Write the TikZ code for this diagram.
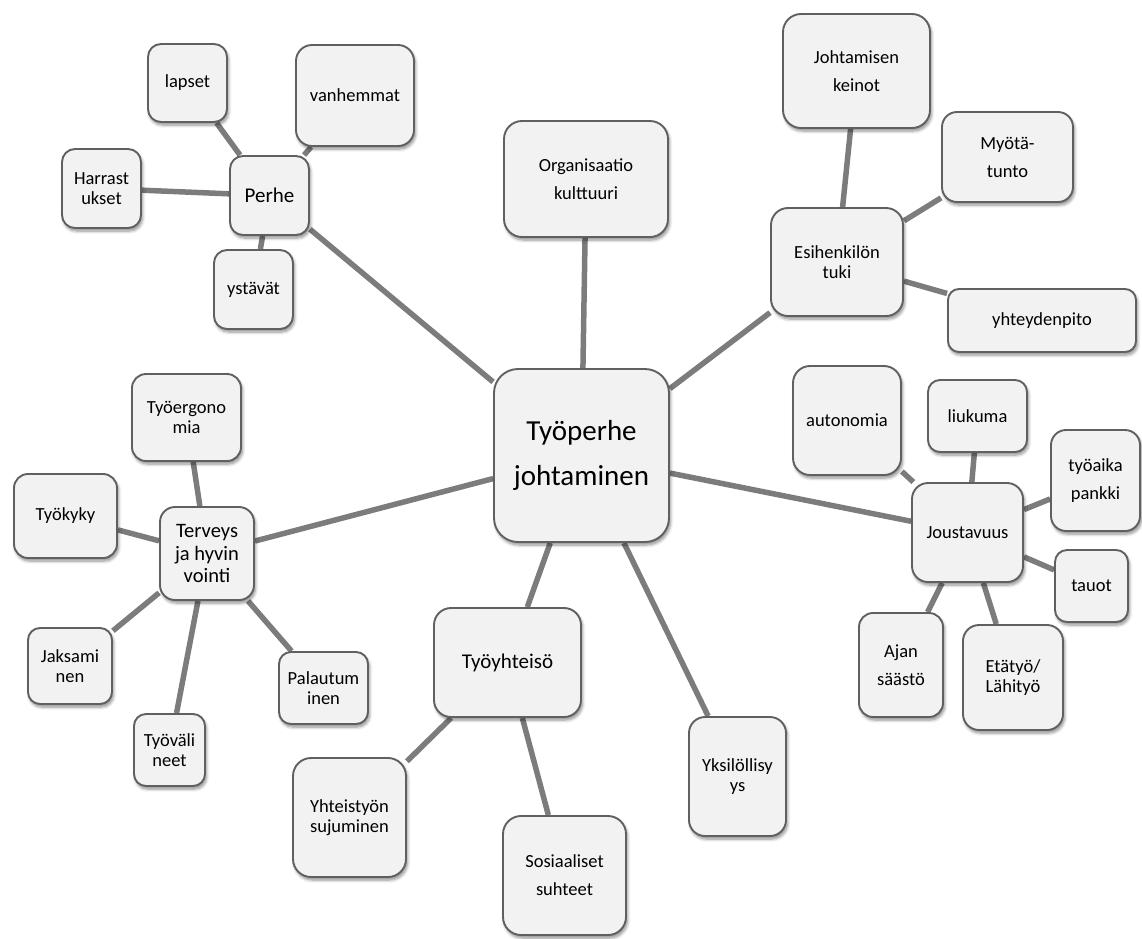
\documentclass[tikz,border=0pt]{standalone}
\usepackage{fontspec}
\setmainfont{Carlito}
\usetikzlibrary{shadows.blur,backgrounds}
\definecolor{boxfill}{HTML}{F2F2F2}
\definecolor{boxline}{HTML}{606060}
\definecolor{linkcol}{HTML}{7C7C7C}
\begin{document}
\begin{tikzpicture}[x=1pt,y=-1pt,
  bx/.style={draw=boxline, line width=1.9pt, fill=boxfill, rounded corners=#1, inner sep=0pt, align=center,
    blur shadow={shadow xshift=1.5pt, shadow yshift=-3pt, shadow blur steps=6, shadow opacity=45, shadow blur radius=3pt},
    font=\fontsize{18.5}{20}\selectfont},
  bx/.default=13pt,
  loose/.style={font=\fontsize{18.5}{28}\selectfont},
  link/.style={draw=linkcol, line width=5.5pt}]
\useasboundingbox (0,0) rectangle (1142,938);

% centre
\node[bx=24pt, minimum width=175pt, minimum height=173pt, font=\fontsize{29}{45}\selectfont] (cen) at (581.5,455.5) {Työperhe\\johtaminen};

% Perhe group
\node[bx, minimum width=79pt, minimum height=79pt, font=\fontsize{21}{23}\selectfont] (perhe) at (269.5,195.5) {Perhe};
\node[bx, minimum width=79pt, minimum height=78pt] (lapset) at (187.5,83) {lapset};
\node[bx=16pt, minimum width=118pt, minimum height=101pt] (vanh) at (355,95.5) {vanhemmat};
\node[bx, minimum width=79pt, minimum height=79pt] (harr) at (101.5,188.5) {Harrast\\ukset};
\node[bx, minimum width=79pt, minimum height=79pt] (ystav) at (253.5,289.5) {ystävät};

% Organisaatio
\node[bx=18pt, loose, minimum width=164pt, minimum height=116pt] (org) at (586,179) {Organisaatio\\kulttuuri};

% Esihenkilön tuki group
\node[bx=17pt, minimum width=132pt, minimum height=108pt] (esih) at (837,262) {Esihenkilön\\tuki};
\node[bx=18pt, loose, minimum width=147pt, minimum height=114pt] (joht) at (856.5,71) {Johtamisen\\keinot};
\node[bx=15pt, loose, minimum width=131pt, minimum height=90pt] (myota) at (1007.5,157) {Myötä-\\tunto};
\node[bx=11pt, minimum width=188pt, minimum height=63pt] (yhtp) at (1042,320.5) {yhteydenpito};

% Joustavuus group
\node[bx=16pt, minimum width=111pt, minimum height=99pt] (joust) at (967.5,532.5) {Joustavuus};
\node[bx=17pt, minimum width=108pt, minimum height=109pt] (auto) at (847,420.5) {autonomia};
\node[bx=12pt, minimum width=99pt, minimum height=72pt] (liuk) at (977.5,416) {liukuma};
\node[bx=15pt, loose, minimum width=89pt, minimum height=101pt] (pankki) at (1095.5,480.5) {työaika\\pankki};
\node[bx=12pt, minimum width=73pt, minimum height=72pt] (tauot) at (1091.5,586) {tauot};
\node[bx=14pt, loose, minimum width=84pt, minimum height=104pt] (ajan) at (901,665) {Ajan\\säästö};
\node[bx=16pt, minimum width=100pt, minimum height=105pt] (eta) at (1013,677.5) {Etätyö/\\Lähityö};

% Terveys group
\node[bx=15pt, minimum width=94pt, minimum height=93pt, font=\fontsize{20.5}{22.7}\selectfont] (terv) at (207,553.5) {Terveys\\ja hyvin\\vointi};
\node[bx=14pt, minimum width=109pt, minimum height=87pt] (ergo) at (186.5,417.5) {Työergono\\mia};
\node[bx=14pt, minimum width=103pt, minimum height=84pt] (kyky) at (65.5,516) {Työkyky};
\node[bx=12pt, minimum width=84pt, minimum height=76pt] (jaks) at (70,666) {Jaksami\\nen};
\node[bx=12pt, minimum width=89pt, minimum height=72pt] (pala) at (323.5,688) {Palautum\\inen};
\node[bx=12pt, minimum width=71pt, minimum height=72pt] (tval) at (169.5,750) {Työväli\\neet};

% Työyhteisö group
\node[bx=17pt, minimum width=147pt, minimum height=109pt, font=\fontsize{21}{23}\selectfont] (tyht) at (507.5,662.5) {Työyhteisö};
\node[bx=18pt, minimum width=113pt, minimum height=119pt] (yhteis) at (349.5,817.5) {Yhteistyön\\sujuminen};
\node[bx=18pt, loose, minimum width=123pt, minimum height=119pt] (sos) at (564.5,875.5) {Sosiaaliset\\suhteet};

% Yksilöllisyys
\node[bx=16pt, minimum width=97pt, minimum height=119pt] (yks) at (737.5,776.5) {Yksilöllisy\\ys};

\begin{scope}[on background layer]
  \draw[link] (cen) -- (perhe);
  \draw[link] (cen) -- (org);
  \draw[link] (cen) -- (esih);
  \draw[link] (cen) -- (joust);
  \draw[link] (cen) -- (terv);
  \draw[link] (cen) -- (tyht);
  \draw[link] (cen) -- (yks);
  \draw[link] (perhe) -- (lapset);
  \draw[link] (perhe) -- (vanh);
  \draw[link] (perhe) -- (harr);
  \draw[link] (perhe) -- (ystav);
  \draw[link] (esih) -- (joht);
  \draw[link] (esih) -- (myota);
  \draw[link] (esih) -- (yhtp);
  \draw[link] (joust) -- (auto);
  \draw[link] (joust) -- (liuk);
  \draw[link] (joust) -- (pankki);
  \draw[link] (joust) -- (tauot);
  \draw[link] (joust) -- (ajan);
  \draw[link] (joust) -- (eta);
  \draw[link] (terv) -- (ergo);
  \draw[link] (terv) -- (kyky);
  \draw[link] (terv) -- (jaks);
  \draw[link] (terv) -- (pala);
  \draw[link] (terv) -- (tval);
  \draw[link] (tyht) -- (yhteis);
  \draw[link] (tyht) -- (sos);
\end{scope}
\end{tikzpicture}
\end{document}
